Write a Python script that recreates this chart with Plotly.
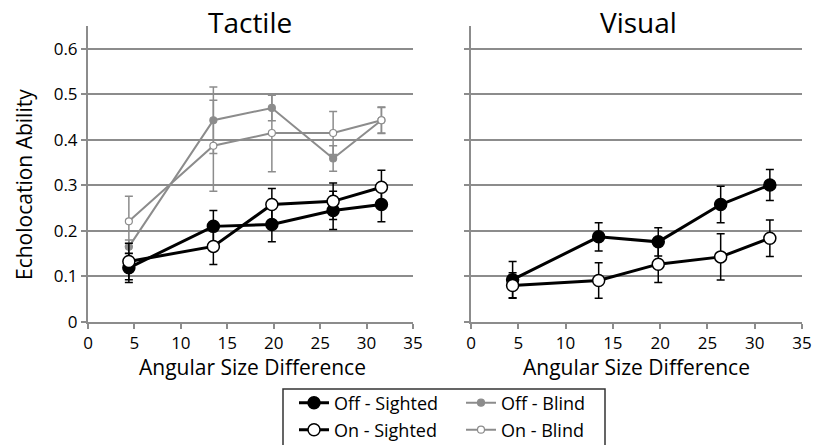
import plotly.graph_objects as go

# ---- data ----
x_vals = [4.4, 13.5, 19.8, 26.4, 31.6]

tactile_off_sighted = [0.119, 0.210, 0.214, 0.245, 0.258]
tactile_off_sighted_err = [0.032, 0.035, 0.038, 0.042, 0.038]
tactile_on_sighted = [0.133, 0.166, 0.258, 0.265, 0.296]
tactile_on_sighted_err = [0.040, 0.040, 0.035, 0.040, 0.037]
tactile_off_blind = [0.165, 0.443, 0.470, 0.359, 0.443]
tactile_off_blind_err = [0.015, 0.073, 0.028, 0.028, 0.028]
tactile_on_blind = [0.221, 0.387, 0.415, 0.415, 0.443]
tactile_on_blind_err = [0.055, 0.100, 0.085, 0.047, 0.029]

visual_off_sighted = [0.093, 0.187, 0.176, 0.258, 0.301]
visual_off_sighted_err = [0.040, 0.031, 0.031, 0.040, 0.034]
visual_on_sighted = [0.080, 0.091, 0.127, 0.143, 0.184]
visual_on_sighted_err = [0.028, 0.039, 0.040, 0.051, 0.040]

x_ticks = [0, 5, 10, 15, 20, 25, 30, 35]
y_ticks = [0, 0.1, 0.2, 0.3, 0.4, 0.5, 0.6]
y_tick_labels = ["0", "0.1", "0.2", "0.3", "0.4", "0.5", "0.6"]

GRAY = "#8c8c8c"
FONT = "Open Sans"

W, H = 815, 445
def px(x): return x / W
def py(y): return 1 - y / H

fig = go.Figure()

def add(xs, ys, err, name, color, fill, size, lw, xa, ya, legend, show, ecolor):
    fig.add_trace(go.Scatter(
        x=xs, y=ys, name=name, mode="lines+markers",
        line=dict(color=color, width=lw),
        marker=dict(size=size, color=fill, line=dict(color=color, width=1.5 if size > 8 else 1.2)),
        error_y=dict(type="data", array=err, color=ecolor, thickness=1.5, width=4),
        xaxis=xa, yaxis=ya, showlegend=show, legend=legend,
    ))

# Tactile
add(x_vals, tactile_off_blind, tactile_off_blind_err, "Off - Blind", GRAY, GRAY, 7, 2, "x", "y", "legend", True, GRAY)
add(x_vals, tactile_on_blind, tactile_on_blind_err, "On - Blind", GRAY, "white", 7, 2, "x", "y", "legend2", True, GRAY)
add(x_vals, tactile_off_sighted, tactile_off_sighted_err, "Off - Sighted", "black", "black", 12, 3, "x", "y", "legend", True, "black")
add(x_vals, tactile_on_sighted, tactile_on_sighted_err, "On - Sighted", "black", "white", 12, 3, "x", "y", "legend2", True, "black")
# Visual
add(x_vals, visual_off_sighted, visual_off_sighted_err, "Off - Sighted", "black", "black", 12, 3, "x2", "y2", "legend", False, "black")
add(x_vals, visual_on_sighted, visual_on_sighted_err, "On - Sighted", "black", "white", 12, 3, "x2", "y2", "legend2", False, "black")

xax = dict(range=[0, 35], tickvals=x_ticks, showgrid=False, zeroline=False,
           showline=True, linecolor=GRAY, linewidth=2, ticks="outside",
           ticklen=5, tickcolor=GRAY, tickwidth=2,
           tickfont=dict(family=FONT, size=17, color="black"))
yax = dict(range=[0, 0.65], tickvals=y_ticks, ticktext=y_tick_labels, showgrid=True,
           gridcolor=GRAY, gridwidth=2, zeroline=False, showline=True,
           linecolor=GRAY, linewidth=2, ticks="outside", ticklen=5, tickcolor=GRAY,
           tickwidth=2, tickfont=dict(family=FONT, size=17, color="black"))

ydom = [py(322), py(26)]
legend_common = dict(orientation="h", xanchor="left", yanchor="middle",
                     font=dict(family=FONT, size=18, color="black"), bgcolor="rgba(0,0,0,0)",
                     entrywidth=122, entrywidthmode="pixels", traceorder="reversed",
                     itemwidth=30, tracegroupgap=0)
ann = dict(xref="paper", yref="paper", showarrow=False, xanchor="center", yanchor="middle")
fig.update_layout(
    width=W, height=H, margin=dict(l=0, r=0, t=0, b=0, autoexpand=False),
    paper_bgcolor="white", plot_bgcolor="white",
    xaxis=dict(xax, domain=[px(88), px(413)], anchor="y"),
    yaxis=dict(yax, domain=ydom, anchor="x"),
    xaxis2=dict(xax, domain=[px(471), px(802)], anchor="y2"),
    yaxis2=dict(yax, domain=ydom, anchor="x2", showticklabels=False),
    legend=dict(legend_common, x=px(294), y=py(403)),
    legend2=dict(legend_common, x=px(294), y=py(430)),
    shapes=[dict(type="rect", xref="paper", yref="paper",
                 x0=px(283), x1=px(605), y0=py(389), y1=py(450),
                 line=dict(color="#333333", width=1.5), fillcolor="rgba(0,0,0,0)")],
    annotations=[
        dict(ann, text="Tactile", x=px(250), y=py(22),
             font=dict(family=FONT, size=28, color="black")),
        dict(ann, text="Visual", x=px(638), y=py(22),
             font=dict(family=FONT, size=28, color="black")),
        dict(ann, text="Angular Size Difference", x=px(252), y=py(367),
             font=dict(family=FONT, size=21, color="black")),
        dict(ann, text="Angular Size Difference", x=px(636), y=py(367),
             font=dict(family=FONT, size=21, color="black")),
        dict(ann, text="Echolocation Ability", x=px(24), y=py(185), textangle=-90,
             font=dict(family=FONT, size=21, color="black")),
    ],
)

fig.write_html("out.html", config={"displayModeBar": False},
               post_script="document.body.style.margin='0';document.body.style.overflow='hidden';")
